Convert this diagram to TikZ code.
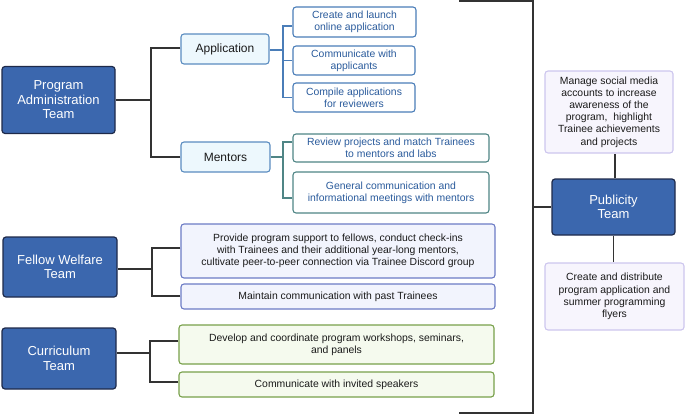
\documentclass[tikz,border=0pt]{standalone}
\usepackage{fontspec}
\setmainfont{Liberation Sans}
\definecolor{teamfill}{HTML}{3B67AE}
\definecolor{teamborder}{HTML}{1E2A4A}
\definecolor{appfill}{HTML}{EDF8FD}
\definecolor{appborder}{HTML}{5A8CC0}
\definecolor{asubborder}{HTML}{4A7DB8}
\definecolor{subtext}{HTML}{2A5B9C}
\definecolor{msubborder}{HTML}{4F8585}
\definecolor{ffill}{HTML}{F2F4FD}
\definecolor{fborder}{HTML}{6C7BC5}
\definecolor{cfill}{HTML}{F5FAEE}
\definecolor{cborder}{HTML}{78A04A}
\definecolor{pfill}{HTML}{F7F5FD}
\definecolor{pborder}{HTML}{CDC6EE}
\definecolor{linecol}{HTML}{333333}
\definecolor{darktext}{HTML}{1A1A1A}
\begin{document}
\begin{tikzpicture}[x=1pt,y=-1pt,
  team/.style={draw=teamborder, fill=teamfill, line width=1.2pt, rounded corners=3pt,
    text=white, font=\fontsize{13}{14.5}\selectfont, align=center, inner sep=0pt},
  box/.style={rounded corners=3pt, line width=1.1pt, align=center, inner sep=0pt,
    font=\fontsize{10.4}{12.2}\selectfont},
  midbox/.style={box, draw=appborder, fill=appfill, text=darktext, font=\fontsize{12}{13}\selectfont},
  asub/.style={box, draw=asubborder, fill=white, text=subtext},
  msub/.style={box, draw=msubborder, fill=white, text=subtext},
  fsub/.style={box, draw=fborder, fill=ffill, text=darktext},
  csub/.style={box, draw=cborder, fill=cfill, text=darktext},
  psub/.style={box, draw=pborder, fill=pfill, text=darktext},
  conn/.style={draw=linecol, line width=1.4pt},
  aconn/.style={draw=asubborder, line width=1.4pt},
  mconn/.style={draw=msubborder, line width=1.4pt}
]
\useasboundingbox (0,0) rectangle (685,415);

% Team nodes
\node[team, minimum width=113pt, minimum height=67pt] (pat) at (58.5,100) {Program\\Administration\\Team};
\node[team, minimum width=114pt, minimum height=60pt] (fwt) at (60,267) {Fellow Welfare\\Team};
\node[team, minimum width=114pt, minimum height=61pt] (cur) at (59,358.5) {Curriculum\\Team};
\node[team, minimum width=123pt, minimum height=56pt] (pub) at (613.5,207) {Publicity\\Team};

% Middle nodes
\node[midbox, minimum width=88pt, minimum height=30pt] (app) at (225,49) {Application};
\node[midbox, minimum width=89pt, minimum height=30pt] (men) at (225.5,157) {Mentors};

% Application sub-tasks
\node[asub, minimum width=123pt, minimum height=30pt] (a1) at (354.5,22) {Create and launch\\online application};
\node[asub, minimum width=122pt, minimum height=29pt] (a2) at (354,60.5) {Communicate with\\applicants};
\node[asub, minimum width=122pt, minimum height=29pt] (a3) at (354,97.5) {Compile applications\\for reviewers};

% Mentors sub-tasks
\node[msub, minimum width=196pt, minimum height=28pt] (m1) at (391,148) {Review projects and match Trainees\\to mentors and labs};
\node[msub, minimum width=196pt, minimum height=41pt] (m2) at (391,192.5) {General communication and\\informational meetings with mentors};

% Fellow welfare sub-tasks
\node[fsub, minimum width=314pt, minimum height=54pt] (f1) at (338,251) {Provide program support to fellows, conduct check-ins\\with Trainees and their additional year-long mentors,\\cultivate peer-to-peer connection via Trainee Discord group};
\node[fsub, minimum width=314pt, minimum height=25pt] (f2) at (338,296.5) {Maintain communication with past Trainees};

% Curriculum sub-tasks
\node[csub, minimum width=315pt, minimum height=39pt] (c1) at (336.5,344.5) {Develop and coordinate program workshops, seminars,\\and panels};
\node[csub, minimum width=315pt, minimum height=25pt] (c2) at (336.5,384.5) {Communicate with invited speakers};

% Publicity sub-tasks
\node[psub, minimum width=128pt, minimum height=82pt] (p1) at (609,112) {Manage social media\\accounts to increase\\awareness of the\\program,\ \ highlight\\Trainee achievements\\and projects};
\node[psub, minimum width=139pt, minimum height=67pt] (p2) at (614.5,296.5) {Create and distribute\\program application and\\summer programming\\flyers};

% Junction coordinates
\coordinate (j1) at (151,100);
\coordinate (j2) at (283,50);
\coordinate (j3) at (283,157);
\coordinate (j4) at (152,269);
\coordinate (j5) at (150,353);
\coordinate (bt) at (459,1);
\coordinate (btr) at (533,1);
\coordinate (bbr) at (533,413);
\coordinate (bb) at (459,413);
\coordinate (bm) at (533,207);

% Connectors
\draw[conn] (pat.east) -- (j1);
\draw[conn] ([yshift=1pt]app.west) -| (j1);
\draw[conn] (men.west) -| (j1);

\draw[aconn] (app.east |- j2) -- (j2);
\draw[aconn] ([yshift=-4pt]a1.west) -| (j2);
\draw[aconn] (a2.west) -- (a2.west -| j2);
\draw[aconn] (a3.west) -| (j2);

\draw[mconn] (men.east) -- (j3);
\draw[mconn] ([yshift=6pt]m1.west) -| (j3);
\draw[mconn] ([yshift=-5.5pt]m2.west) -| (j3);

\draw[conn] (fwt.east |- j4) -- (j4);
\draw[conn] ([yshift=3pt]f1.west) -| (j4);
\draw[conn] ([yshift=0.5pt]f2.west) -| (j4);

\draw[conn] (cur.east |- j5) -- (j5);
\draw[conn] ([yshift=3.5pt]c1.west) -| (j5);
\draw[conn] ([yshift=2.5pt]c2.west) -| (j5);

\draw[conn] (bt) -- (btr) -- (bbr) -- (bb);
\draw[conn] (bm) -- (pub.west);

\draw[conn] ([xshift=1.5pt]pub.north) -- ([xshift=1.5pt]pub.north |- p1.south);
\draw[conn] (pub.south) -- (pub.south |- p2.north);
\end{tikzpicture}
\end{document}
